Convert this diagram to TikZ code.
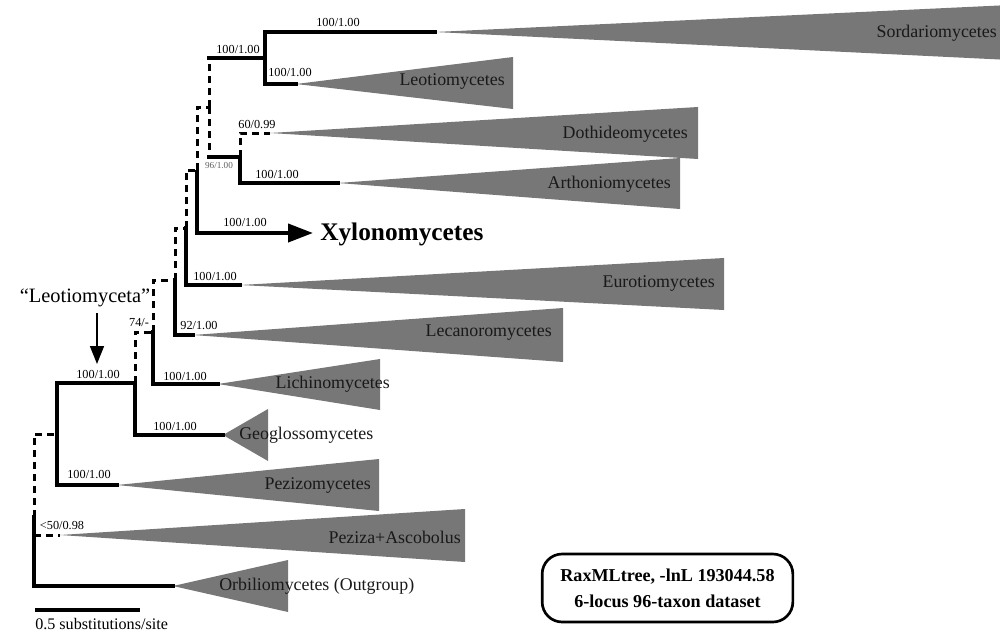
\documentclass[tikz,border=0pt]{standalone}
\usepackage{fontspec}
\setmainfont{Liberation Serif}
\usetikzlibrary{arrows.meta}
\definecolor{cladegray}{RGB}{119,119,119}
\definecolor{labgray}{RGB}{95,95,95}
\begin{document}
\begin{tikzpicture}[x=0.75pt,y=-0.75pt,
  thk/.style={line width=3pt,line cap=rect},
  dsh/.style={line width=2.25pt,dash pattern=on 5pt off 4pt},
  clade/.style={fill=cladegray},
  supp/.style={inner sep=0pt,font=\fontsize{9.2}{10}\selectfont},
  cladelab/.style={inner sep=0pt,font=\fontsize{13.4}{15}\selectfont,text=black!90},
]
\useasboundingbox (0,0) rectangle (1000,632);
% internal nodes
\coordinate (nA) at (265,58);
\coordinate (nB) at (240,157);
\coordinate (nC) at (209,107);
\coordinate (nD) at (197,170);
\coordinate (nE) at (186,228);
\coordinate (nF) at (175,280);
\coordinate (nG) at (153,332);
\coordinate (nH) at (135,383);
\coordinate (nI) at (57,434);
\coordinate (nR) at (34,517);
% tips (clade apices)
\coordinate (tSor) at (435,32);
\coordinate (tLeo) at (296,84);
\coordinate (tDot) at (270,133);
\coordinate (tArt) at (338,183);
\coordinate (tXyl) at (313,233);
\coordinate (tEur) at (240,285);
\coordinate (tLec) at (193,335);
\coordinate (tLic) at (218,384);
\coordinate (tGeo) at (223,435);
\coordinate (tPzm) at (117,485);
\coordinate (tPza) at (60,535);
\coordinate (tOrb) at (173,586);

% clade triangles
\begin{scope}
\clip (0,0) rectangle (1000,632);
\fill[clade] (tSor) -- (1010,5) -- (1010,60) -- cycle;
\end{scope}
\fill[clade] (tLeo) -- (513,57) -- (513,109) -- cycle;
\fill[clade] (tDot) -- (698,107) -- (698,159) -- cycle;
\fill[clade] (tArt) -- (680,158) -- (680,209) -- cycle;
\fill[clade] (tEur) -- (724,258) -- (724,310) -- cycle;
\fill[clade] (tLec) -- (563,308) -- (563,362) -- cycle;
\fill[clade] (tLic) -- (380,359) -- (380,410) -- cycle;
\fill[clade] (tGeo) -- (268,409) -- (268,461) -- cycle;
\fill[clade] (tPzm) -- (379,459) -- (379,511) -- cycle;
\fill[clade] (tPza) -- (465,509) -- (465,562) -- cycle;
\fill[clade] (tOrb) -- (288,560) -- (288,612) -- cycle;

% branches
\draw[thk] (nA) |- (tSor);
\draw[thk] (nA) |- (tLeo);
\draw[dsh] (nC) -- (nC |- nA);
\draw[thk] (nC |- nA) -- (nA);
\draw[dsh] (nC) -- (nC |- nB);
\draw[thk] (nC |- nB) -- (nB);
\draw[dsh] (nB) |- (tDot);
\draw[thk] (nB) |- (tArt);
\draw[dsh] (nD) |- (nC);
\draw[thk,line cap=butt,-{Triangle[length=18.75pt,width=13.5pt]}] (nD) |- (tXyl);
\draw[dsh] (nE) |- (nD);
\draw[thk] (nE) |- (tEur);
\draw[dsh] (nF) |- (nE);
\draw[thk] (nF) |- (tLec);
\draw[dsh] (nG) |- (nF);
\draw[thk] (nG) |- (tLic);
\draw[dsh] (nH) |- (nG);
\draw[thk] (nH) |- (tGeo);
\draw[thk] (nI) |- (nH);
\draw[thk] (nI) |- (tPzm);
\draw[dsh] (nR) |- (nI);
\draw[thk] (nR) |- (tOrb);
\draw[dsh] (nR |- tPza) -- (tPza);

% support values
\node[supp] (sSor) at (338,23) {100/1.00};
\node[supp] (sA) at (238,50) {100/1.00};
\node[supp] (sLeo) at (290,73) {100/1.00};
\node[supp] (sDot) at (257,125) {60/0.99};
\node[supp,text=labgray,font=\fontsize{6.9}{8}\selectfont] (sB) at (219,166) {96/1.00};
\node[supp] (sArt) at (277,175) {100/1.00};
\node[supp] (sXyl) at (245,223) {100/1.00};
\node[supp] (sEur) at (215,277) {100/1.00};
\node[supp] (sLec) at (199,326) {92/1.00};
\node[supp] (sG) at (139,323) {74/-};
\node[supp] (sLic) at (185,377) {100/1.00};
\node[supp] (sH) at (98,375) {100/1.00};
\node[supp] (sGeo) at (175,427) {100/1.00};
\node[supp] (sPzm) at (89,475) {100/1.00};
\node[supp] (sPza) at (62,526) {<50/0.98};

% clade labels
\node[cladelab,anchor=east] (lSor) at (997,33) {Sordariomycetes};
\node[cladelab,anchor=east] (lLeo) at (505,82) {Leotiomycetes};
\node[cladelab,anchor=east] (lDot) at (688,134) {Dothideomycetes};
\node[cladelab,anchor=east] (lArt) at (671,184) {Arthoniomycetes};
\node[anchor=west,inner sep=0pt,font=\bfseries\fontsize{19}{22}\selectfont] (lXyl) at (320,234) {Xylonomycetes};
\node[cladelab,anchor=east] (lEur) at (715,284) {Eurotiomycetes};
\node[cladelab,anchor=east] (lLec) at (552,333) {Lecanoromycetes};
\node[cladelab,anchor=east] (lLic) at (390,384) {Lichinomycetes};
\node[cladelab,anchor=west] (lGeo) at (239,435) {Geoglossomycetes};
\node[cladelab,anchor=east] (lPzm) at (371,486) {Pezizomycetes};
\node[cladelab,anchor=east] (lPza) at (461,537) {Peziza+Ascobolus};
\node[cladelab,anchor=west] (lOrb) at (219,586) {Orbiliomycetes (Outgroup)};

% Leotiomyceta label and arrow
\node[inner sep=0pt,font=\fontsize{15.3}{17}\selectfont] (leoName) at (85,298) {“Leotiomyceta”};
\coordinate (leoStart) at (97,313);
\coordinate (leoTip) at (97,364);
\draw[line width=1.2pt,-{Triangle[length=13.5pt,width=10.5pt]}] (leoStart) -- (leoTip);

% scale bar
\coordinate (sb1) at (35,610);
\coordinate (sb2) at (140,610);
\draw[line width=3pt] (sb1) -- (sb2);
\node[anchor=west,inner sep=0pt,font=\fontsize{12.1}{14}\selectfont] (sbLab) at (35,624) {0.5 substitutions/site};

% legend box
\node[draw,line width=2pt,rounded corners=15pt,minimum width=188pt,minimum height=51pt,
  align=center,inner sep=0pt,font=\bfseries\fontsize{13.6}{19.5}\selectfont] (legend) at (667.5,588)
  {RaxMLtree, -lnL 193044.58\\6-locus 96-taxon dataset};
\end{tikzpicture}
\end{document}
